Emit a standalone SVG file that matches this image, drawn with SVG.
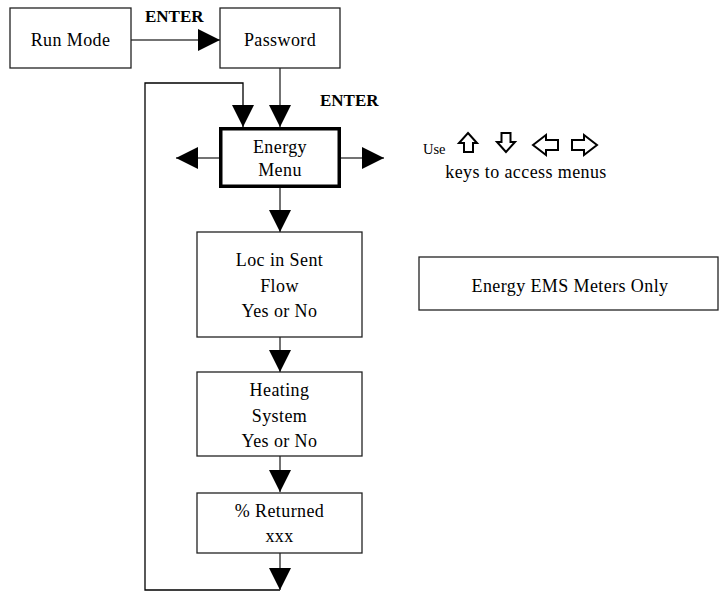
<svg xmlns="http://www.w3.org/2000/svg" width="720" height="592" viewBox="0 0 720 592">
<style>
.box{fill:#fff;stroke:#222;stroke-width:1.3}
.thick{fill:#fff;stroke:#000;stroke-width:3.5}
.t{font-family:"Liberation Serif","Times New Roman",serif;font-size:18px;letter-spacing:0.4px;fill:#000;text-anchor:middle}
.b{font-family:"Liberation Serif","Times New Roman",serif;font-size:17px;font-weight:bold;fill:#000}
.c{fill:none;stroke:#444;stroke-width:1.5}
.loop{fill:none;stroke:#000;stroke-width:1.3}
.key{fill:#fff;stroke:#000;stroke-width:2;stroke-linejoin:miter}
</style>
<defs>
<marker id="ah" viewBox="0 0 22 22" refX="22" refY="11" markerWidth="22" markerHeight="22" markerUnits="userSpaceOnUse" orient="auto">
<path d="M0 0 L22 11 L0 22 Z" fill="#000"/>
</marker>
</defs>
<g id="connectors">
<path class="c" d="M131 40 H220" marker-end="url(#ah)"/>
<path class="c" d="M280 68 V127" marker-end="url(#ah)"/>
<path class="loop" d="M280 590 H145 V83 H243 V127" marker-end="url(#ah)"/>
<path class="c" d="M219 158 H176" marker-end="url(#ah)"/>
<path class="c" d="M341 158 H384" marker-end="url(#ah)"/>
<path class="c" d="M280 188 V232" marker-end="url(#ah)"/>
<path class="c" d="M280 337 V372" marker-end="url(#ah)"/>
<path class="c" d="M280 456 V492" marker-end="url(#ah)"/>
<path class="c" d="M280 553 V590" marker-end="url(#ah)"/>
</g>
<g id="label-enter1"><text class="b" x="145" y="22">ENTER</text></g>
<g id="label-enter2"><text class="b" x="320" y="106">ENTER</text></g>
<g id="run-mode">
<rect class="box" x="10" y="8" width="121" height="60"/>
<text class="t" x="70.5" y="46">Run Mode</text>
</g>
<g id="password">
<rect class="box" x="220" y="8" width="120" height="60"/>
<text class="t" x="280" y="46">Password</text>
</g>
<g id="energy-menu">
<rect class="thick" x="220.75" y="128.75" width="118.5" height="57.5"/>
<text class="t" x="280" y="153">Energy</text>
<text class="t" x="280" y="176">Menu</text>
</g>
<g id="loc-in-sent">
<rect class="box" x="197" y="232" width="165" height="105"/>
<text class="t" x="279.5" y="266">Loc in Sent</text>
<text class="t" x="279.5" y="292">Flow</text>
<text class="t" x="279.5" y="317">Yes or No</text>
</g>
<g id="heating-system">
<rect class="box" x="197" y="372" width="165" height="84"/>
<text class="t" x="279.5" y="396">Heating</text>
<text class="t" x="279.5" y="422">System</text>
<text class="t" x="279.5" y="447">Yes or No</text>
</g>
<g id="percent-returned">
<rect class="box" x="197" y="493" width="165" height="60"/>
<text class="t" x="279.5" y="517">% Returned</text>
<text class="t" x="279.5" y="542">xxx</text>
</g>
<g id="keys-note">
<text class="t" x="423" y="154" style="font-size:14.5px;text-anchor:start;letter-spacing:0">Use</text>
<path class="key" d="M468 133 L477 143 L473 143 L473 152 L464 152 L464 143 L459 143 Z"/>
<path class="key" d="M506 152 L497 142 L501.5 142 L501.5 133 L510.5 133 L510.5 142 L515 142 Z"/>
<path class="key" d="M533 145 L546 135 L546 140 L558 140 L558 150 L546 150 L546 155 Z"/>
<path class="key" d="M597 145 L584 135 L584 140 L572 140 L572 150 L584 150 L584 155 Z"/>
<text class="t" x="526" y="178">keys to access menus</text>
</g>
<g id="ems-note">
<rect class="box" x="419" y="257" width="299" height="53"/>
<text class="t" x="570" y="292">Energy EMS Meters Only</text>
</g>
</svg>
